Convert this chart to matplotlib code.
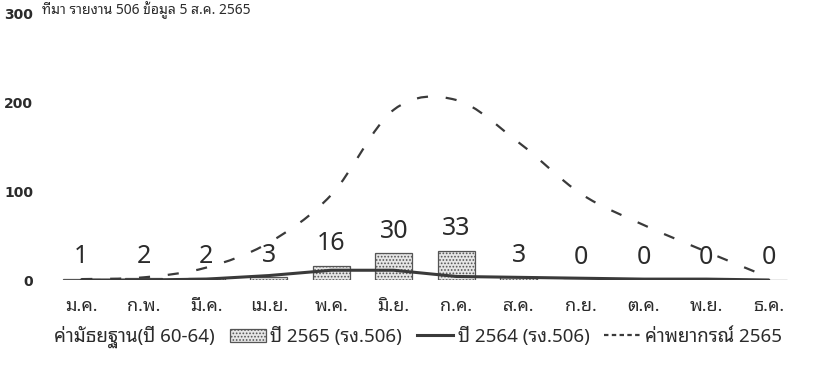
import matplotlib
matplotlib.use("Agg")
import matplotlib.pyplot as plt
from matplotlib.path import Path
from matplotlib.patches import PathPatch, Patch
from matplotlib.lines import Line2D
import numpy as np

plt.rcParams['font.family'] = ['Noto Sans Thai Looped', 'DejaVu Sans']
plt.rcParams['hatch.color'] = '#777777'
plt.rcParams['hatch.linewidth'] = 0.8

# ---- data ----
months = ['ม.ค.', 'ก.พ.', 'มี.ค.', 'เม.ย.', 'พ.ค.', 'มิ.ย.',
          'ก.ค.', 'ส.ค.', 'ก.ย.', 'ต.ค.', 'พ.ย.', 'ธ.ค.']
cases_2565 = [1, 2, 2, 3, 16, 30, 33, 3, 0, 0, 0, 0]
cases_2564 = [0, 0, 1, 5, 11, 11, 4, 3, 2, 1, 1, 0]
forecast_2565 = [1, 3, 14, 42, 96, 192, 203, 155, 97, 62, 32, 3]
yticks = [0, 100, 200, 300]

legend_labels = ['ค่ามัธยฐาน(ปี 60-64)', 'ปี 2565 (รง.506)',
                 'ปี 2564 (รง.506)', 'ค่าพยากรณ์ 2565']
top_note = 'ที่มา รายงาน 506 ข้อมูล 5 ส.ค. 2565'

ink = '#2b2b2b'


def smooth_path(xs, ys):
    # excel-like smoothed line: catmull-rom segments as cubic beziers
    pts = np.column_stack([xs, ys]).astype(float)
    n = len(pts)
    verts = [pts[0]]
    codes = [Path.MOVETO]
    for i in range(n - 1):
        p0 = pts[i - 1] if i > 0 else pts[i]
        p1 = pts[i]
        p2 = pts[i + 1]
        p3 = pts[i + 2] if i + 2 < n else pts[i + 1]
        c1 = p1 + (p2 - p0) / 6.0
        c2 = p2 - (p3 - p1) / 6.0
        verts += [c1, c2, p2]
        codes += [Path.CURVE4] * 3
    return Path(verts, codes)


fig = plt.figure(figsize=(8.17, 3.67), dpi=100)
ax = fig.add_axes([50 / 817, 87 / 367, 750 / 817, 266 / 367])

x = np.arange(len(months))

bars = ax.bar(x, cases_2565, width=0.59, color='#e6e6e6', edgecolor='#555555',
              linewidth=0.9, hatch='.....', zorder=2)

ax.plot(x, cases_2564, color='#3a3a3a', lw=2.2, zorder=3,
        solid_capstyle='round')

fc = PathPatch(smooth_path(x, forecast_2565), facecolor='none',
               edgecolor='#3a3a3a', lw=1.6, linestyle=(0, (5, 8)), zorder=3)
ax.add_patch(fc)

for xi, v in zip(x, cases_2565):
    ax.annotate(str(v), (xi, v), xytext=(0, 7), textcoords='offset points',
                ha='center', va='bottom', fontsize=18, color=ink,
                family=['Noto Sans', 'DejaVu Sans'])

ax.set_xlim(-0.5, len(months) - 0.5)
ax.set_ylim(0, 300)
ax.set_yticks(yticks)
ax.set_yticklabels([str(t) for t in yticks], fontsize=10, fontweight='bold',
                   color=ink, family=['DejaVu Sans'])
ax.set_xticks(x)
ax.set_xticklabels(months, fontsize=13, fontweight='bold', color=ink)
ax.tick_params(axis='y', length=0, pad=12)
ax.tick_params(axis='x', length=0, pad=12)
for s in ax.spines.values():
    s.set_visible(False)

handles = [
    Line2D([], [], color='none'),
    Patch(facecolor='#e6e6e6', edgecolor='#555555', hatch='.....', lw=0.9),
    Line2D([], [], color='#3a3a3a', lw=2.2),
    Line2D([], [], color='#3a3a3a', lw=1.6, linestyle=(0, (2, 1.5))),
]
fig.legend(handles, legend_labels, loc='center left',
           bbox_to_anchor=(14 / 817, 1 - 337 / 367), ncol=4, frameon=False,
           fontsize=13.5, handlelength=1.9, handletextpad=0.25,
           columnspacing=0.8, labelcolor=ink, borderaxespad=0, borderpad=0)

# heading that the scan cut off at the top; kept small so it stays in frame
fig.text(42 / 817, 1 - 1 / 367, top_note, ha='left', va='top',
         fontsize=10, color=ink)

fig.savefig('out.png', dpi=100)
